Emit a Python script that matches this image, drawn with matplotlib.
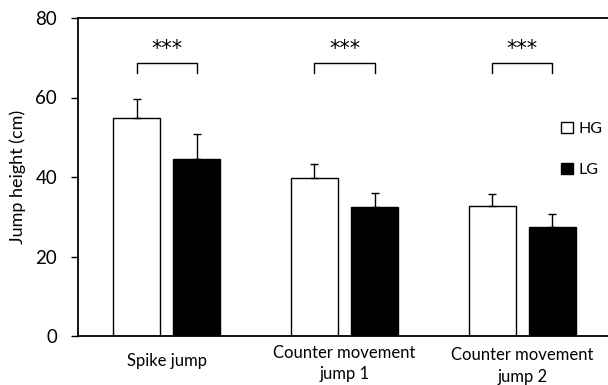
import matplotlib
matplotlib.use("Agg")
import matplotlib.pyplot as plt
import numpy as np

categories = ["Spike jump", "Counter movement\njump 1", "Counter movement\njump 2"]
hg_values = [54.8, 39.8, 32.8]
hg_err = [4.8, 3.5, 3.0]
lg_values = [44.6, 32.4, 27.4]
lg_err = [6.3, 3.6, 3.2]
sig_labels = ["***", "***", "***"]
yticks = [0, 20, 40, 60, 80]

plt.rcParams['font.family'] = ['Lato', 'DejaVu Sans']

W, H = 608, 385
fig = plt.figure(figsize=(W/100, H/100), dpi=100)
L, R, T, B = 78, 611, 18, 336
ax = fig.add_axes([L/W, (H-B)/H, (R-L)/W, (B-T)/H])

x = np.arange(len(categories))
w = 0.265
off = 0.169
ekw = dict(elinewidth=1.0, capthick=1.0, ecolor='black')
ax.bar(x - off, hg_values, w, color='white', edgecolor='black', linewidth=1.0,
       yerr=[np.zeros(3), hg_err], capsize=3.2, error_kw=ekw, label='HG', zorder=2)
ax.bar(x + off, lg_values, w, color='black', edgecolor='black', linewidth=1.0,
       yerr=[np.zeros(3), lg_err], capsize=3.2, error_kw=ekw, label='LG', zorder=2)

# significance brackets
for xi, s in zip(x, sig_labels):
    x0, x1 = xi - off, xi + off
    ax.plot([x0, x0, x1, x1], [66.1, 68.8, 68.8, 66.1], color='black', lw=1.0, clip_on=False)
    ax.text(xi, 72.2, s, ha='center', va='center', fontsize=15, family='DejaVu Sans')

ax.set_xlim(-0.5, 2.5)
ax.set_ylim(0, 80)
ax.set_yticks(yticks)
ax.set_yticklabels([str(v) for v in yticks], fontsize=13.5)
ax.set_xticks(x)
ax.set_xticklabels([])
ax.tick_params(axis='x', length=0)
ax.tick_params(axis='y', length=5, width=1.0, direction='out', pad=10)
for sp in ax.spines.values():
    sp.set_linewidth(1.3)
ax.spines['right'].set_visible(False)

# category labels (Excel-style placement)
label_y_px = [361, 363.5, 366]
for xi, lab, ypx in zip(x, categories, label_y_px):
    ax.text(xi, (B - ypx) / (B - T), lab, transform=ax.get_xaxis_transform(),
            ha='center', va='center', fontsize=12, linespacing=1.4, multialignment='center')

ax.set_ylabel("Jump height (cm)", fontsize=13)
ax.yaxis.set_label_coords((26 - L) / (R - L), 0.5)

ax.legend(loc='upper left', bbox_to_anchor=((561 - L) / (R - L), (B - 122) / (B - T)),
          frameon=False, fontsize=11.5, borderpad=0, borderaxespad=0,
          handlelength=0.72, handleheight=0.72, handletextpad=0.35, labelspacing=1.65)

fig.savefig("out.png", dpi=100)
